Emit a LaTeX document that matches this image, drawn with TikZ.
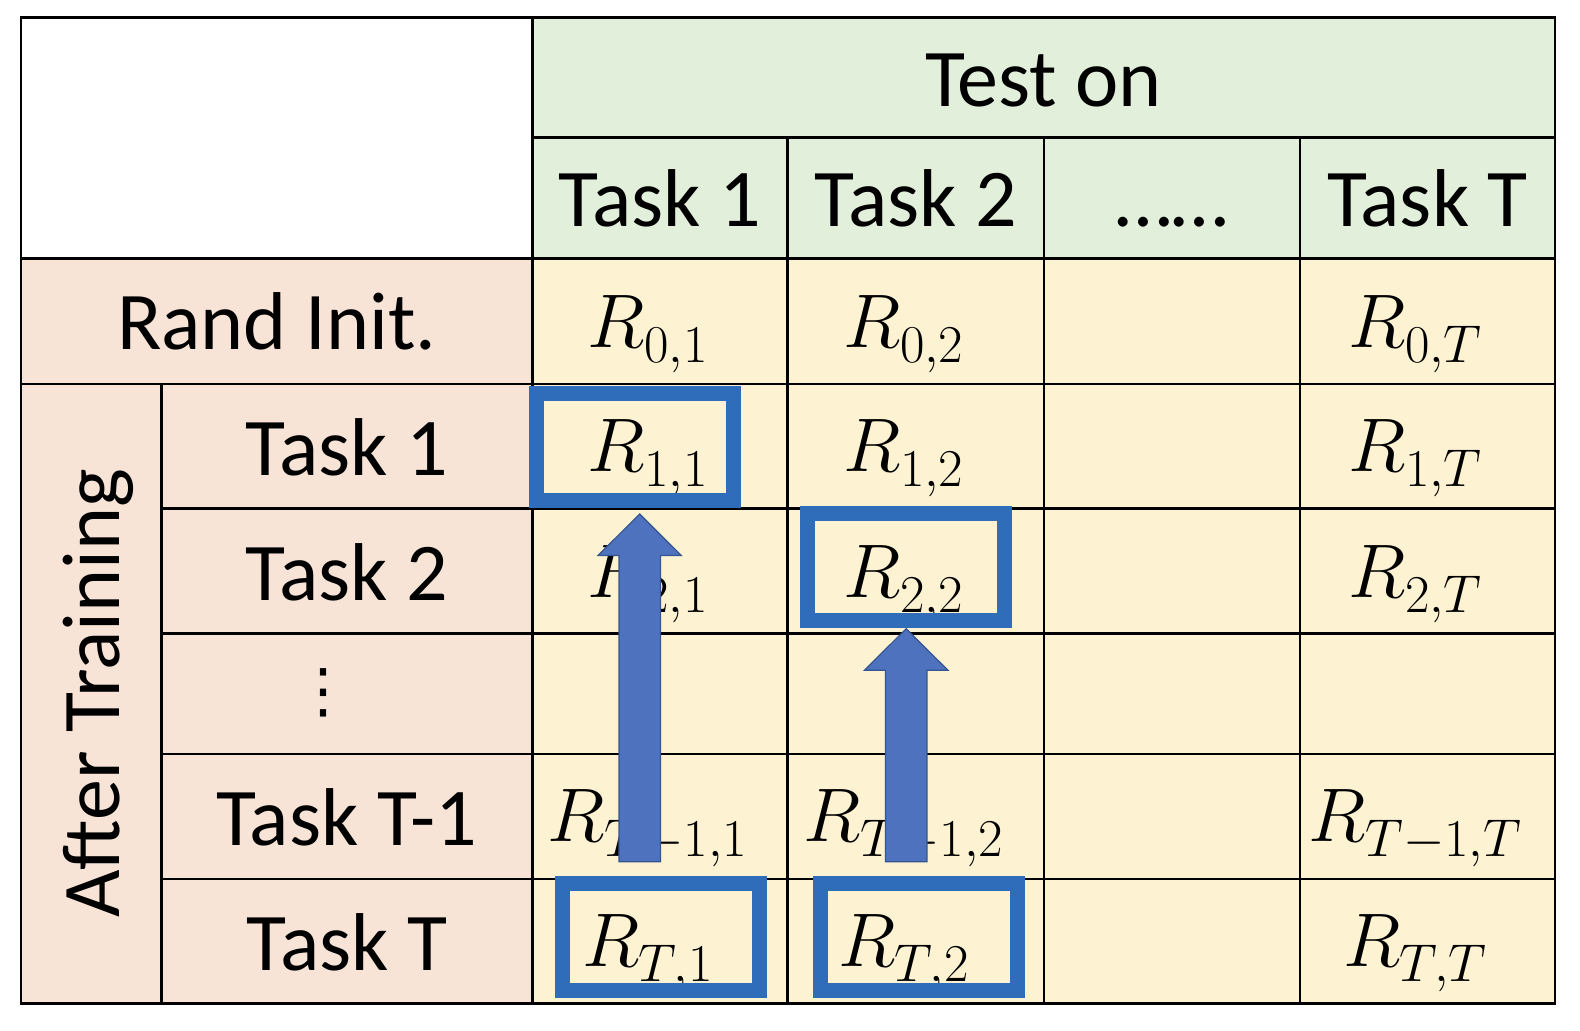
\documentclass[tikz,border=0pt]{standalone}
\usepackage{fix-cm}
\usepackage{fontspec}
\setmainfont{Carlito}
\newfontfamily\dejavu{DejaVu Sans}
\definecolor{hdrgreen}{HTML}{E2EFDA}
\definecolor{rowpeach}{HTML}{F7E4D7}
\definecolor{cellyellow}{HTML}{FDF2D2}
\definecolor{hlblue}{HTML}{2F6DBA}
\definecolor{arrfill}{HTML}{4F72BE}
\definecolor{arrline}{HTML}{34558F}
\newcommand{\Rv}[1]{$\fontdimen16\textfont2=7.6pt R_{#1}$}
\newcommand{\blockuparrow}[4]{% name, x centre, bottom y, tip y
  \coordinate (#1base) at (#2,#3);
  \coordinate (#1tip) at (#2,#4);
  \filldraw[blockarr] (#2-20.7,#3) -- (#2+20.7,#3) -- (#2+20.7,#4+41.5) -- (#2+41.7,#4+41.5)
    -- (#1tip) -- (#2-41.7,#4+41.5) -- (#2-20.7,#4+41.5) -- cycle;}
\begin{document}
\begin{tikzpicture}[x=0.5pt,y=-0.5pt,
  gridline/.style={line width=1.4pt, black},
  lbl/.style={anchor=base, inner sep=0pt, font=\fontsize{41}{49}\selectfont},
  mth/.style={anchor=base, inner sep=0pt, font=\fontsize{38}{46}\selectfont},
  hl/.style={draw=hlblue, line width=7.35pt},
  blockarr/.style={fill=arrfill, draw=arrline, line width=0.6pt, line join=miter}]
\useasboundingbox (0,0) rectangle (1580,1030);
% fills
\fill[hdrgreen] (532.3,17.7) rectangle (1555,258.3);
\fill[rowpeach] (21,258.3) rectangle (532.3,1003.5);
\fill[cellyellow] (532.3,258.3) rectangle (1555,1003.5);
% grid
\draw[gridline] (21,17.7) rectangle (1555,1003.5);
\draw[gridline] (532.3,17.7) -- (532.3,1003.5);
\foreach \x in {787.7,1044,1300} \draw[gridline] (\x,137.3) -- (\x,1003.5);
\draw[gridline] (161.5,384) -- (161.5,1003.5);
\draw[gridline] (532.3,137.3) -- (1555,137.3);
\foreach \y in {258.3,384} \draw[gridline] (21,\y) -- (1555,\y);
\foreach \y in {508.7,633.3,754,879} \draw[gridline] (161.5,\y) -- (1555,\y);
% header texts
\node[lbl] (teston) at (1043.6,106) {Test on};
\node[lbl] (h1) at (660,226.7) {Task 1};
\node[lbl] (h2) at (915.85,226.7) {Task 2};
\node[lbl] (h3) at (1172,226.7) {……};
\node[lbl] (h4) at (1427.5,226.7) {Task T};
% row labels
\node[lbl] (rand) at (276.7,349) {Rand Init.};
\node[lbl, rotate=90] (after) at (119,693.5) {After Training};
\node[lbl] (r1) at (346.9,475.2) {Task 1};
\node[lbl] (r2) at (346.9,600) {Task 2};
\node[inner sep=0pt, font=\dejavu\fontsize{30}{36}\selectfont] (rdots) at (323,693) {⋮};
\node[lbl] (r4) at (346.9,845.5) {Task T-1};
\node[lbl] (r5) at (346.9,970) {Task T};
% values
\node[mth] (v01) at (648,347.7) {\Rv{0,1}};
\node[mth] (v02) at (903.9,347.7) {\Rv{0,2}};
\node[mth] (v0T) at (1415.5,347.7) {\Rv{0,T}};
\node[mth] (v11) at (648,471.7) {\Rv{1,1}};
\node[mth] (v12) at (903.9,471.7) {\Rv{1,2}};
\node[mth] (v1T) at (1415.5,471.7) {\Rv{1,T}};
\node[mth] (v21) at (648,597) {\Rv{2,1}};
\node[mth] (v22) at (903.9,597) {\Rv{2,2}};
\node[mth] (v2T) at (1415.5,597) {\Rv{2,T}};
\node[mth] (v41) at (648,841.7) {\Rv{T-1,1}};
\node[mth] (v42) at (903.9,841.7) {\Rv{T-1,2}};
\node[mth] (v4T) at (1415.5,841.7) {\Rv{T-1,T}};
\node[mth] (v51) at (648,966.7) {\Rv{T,1}};
\node[mth] (v52) at (903.9,966.7) {\Rv{T,2}};
\node[mth] (v5T) at (1415.5,966.7) {\Rv{T,T}};
% highlight boxes
\draw[hl] (536.7,393.7) rectangle (733.3,500.3);
\draw[hl] (807.5,513.7) rectangle (1004.5,620.8);
\draw[hl] (562.5,883.5) rectangle (759.5,990.5);
\draw[hl] (820.7,883.5) rectangle (1017.5,990.5);
% arrows
\blockuparrow{a}{639.7}{861.7}{514}
\blockuparrow{b}{906.2}{861.7}{628.7}
\end{tikzpicture}
\end{document}
